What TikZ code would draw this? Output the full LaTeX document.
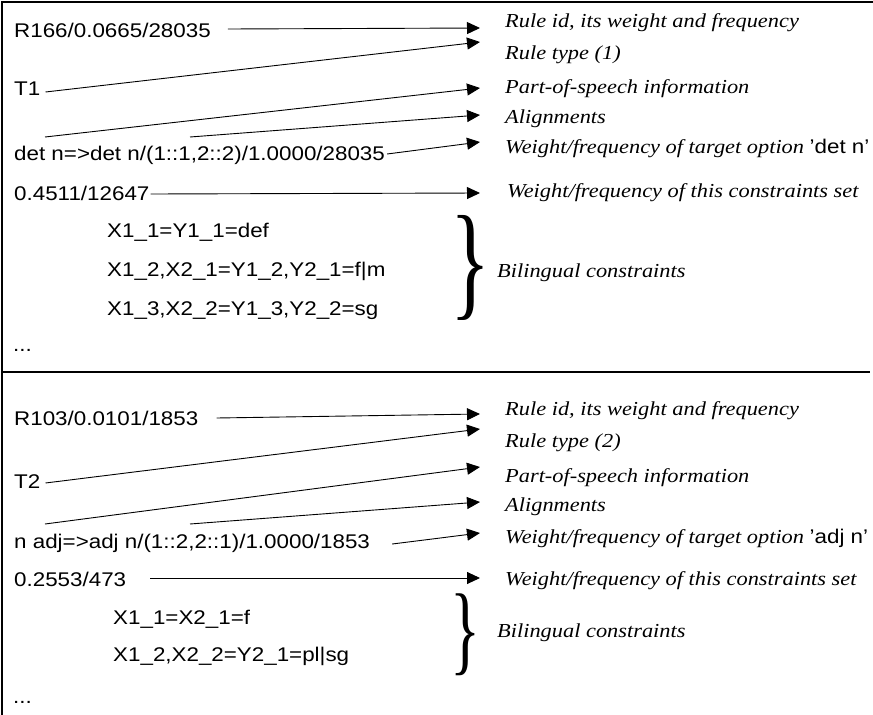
\documentclass[tikz,border=0pt]{standalone}
\usepackage{fontspec}
\usepackage{graphicx}
\setmainfont[FakeStretch=1.13]{Liberation Serif}
\setsansfont[FakeStretch=1.13]{Liberation Sans}
\usetikzlibrary{arrows.meta}

\tikzset{
  code/.style={anchor=base west, inner sep=0pt, font=\sffamily\fontsize{19.8}{22}\selectfont},
  note/.style={anchor=base west, inner sep=0pt, font=\rmfamily\itshape\fontsize{19.8}{22}\selectfont},
  ptr/.style={-{Triangle[length=13pt,width=12pt]}, line width=0.9pt},
  rim/.style={line width=1.3pt}
}
\newcommand{\bigbrace}[2]{\resizebox*{#1}{#2}{\rmfamily\upshape\}}}

\begin{document}
\begin{tikzpicture}[x=1pt,y=1pt]
\useasboundingbox (0,0) rectangle (873,-715);
\draw[rim] (2,-715) -- (2,-2) -- (873,-2);
\draw[rim] (2,-372) -- (870,-372);

% first rule
\node[code] (r166) at (14,-37) {R166/0.0665/28035};
\node[code] (t1) at (14,-95) {T1};
\node[code] (det) at (14,-160) {det n=>det n/(1::1,2::2)/1.0000/28035};
\node[code] (w1) at (14,-200) {0.4511/12647};
\node[code] (c11) at (107,-237) {X1\_1=Y1\_1=def};
\node[code] (c12) at (107,-276) {X1\_2,X2\_1=Y1\_2,Y2\_1=f|m};
\node[code] (c13) at (107,-315) {X1\_3,X2\_2=Y1\_3,Y2\_2=sg};
\node[code] (more1) at (13,-351) {...};

\node[note] (id1) at (505,-27) {Rule id, its weight and frequency};
\node[note] (type1) at (505,-59) {Rule type (1)};
\node[note] (pos1) at (505,-93) {Part-of-speech information};
\node[note] (al1) at (505,-123) {Alignments};
\node[note] (opt1) at (505,-153) {Weight/frequency of target option {\sffamily\upshape 'det n'}};
\node[note] (set1) at (507,-197) {Weight/frequency of this constraints set};
\node[inner sep=0pt] (br1) at (471,-268) {\bigbrace{40pt}{105pt}};
\node[note] (bil1) at (497,-277) {Bilingual constraints};

\coordinate (d1) at (45,-137);
\coordinate (d2) at (190,-137);
\foreach \n/\y in {p1/28, p2/42, p3/88, p4/115, p5/142, p6/193}
  \coordinate (\n) at (480,-\y);

\draw[ptr] ([shift={(17,8)}]r166.base east) -- (p1);
\draw[ptr] ([shift={(5,3)}]t1.base east) -- (p2);
\draw[ptr] (d1) -- (p3);
\draw[ptr] (d2) -- (p4);
\draw[ptr] ([shift={(2,6)}]det.base east) -- (p5);
\draw[ptr] ([shift={(1,6)}]w1.base east) -- (p6);

% second rule
\node[code] (r103) at (14,-425) {R103/0.0101/1853};
\node[code] (t2) at (14,-488) {T2};
\node[code] (adj) at (14,-548) {n adj=>adj n/(1::2,2::1)/1.0000/1853};
\node[code] (w2) at (14,-586) {0.2553/473};
\node[code] (c21) at (113,-624) {X1\_1=X2\_1=f};
\node[code] (c22) at (113,-661) {X1\_2,X2\_2=Y2\_1=pl|sg};
\node[code] (more2) at (13,-703) {...};

\node[note] (id2) at (505,-415) {Rule id, its weight and frequency};
\node[note] (type2) at (505,-447) {Rule type (2)};
\node[note] (pos2) at (505,-482) {Part-of-speech information};
\node[note] (al2) at (505,-511) {Alignments};
\node[note] (opt2) at (505,-543) {Weight/frequency of target option {\sffamily\upshape 'adj n'}};
\node[note] (set2) at (505,-585) {Weight/frequency of this constraints set};
\node[inner sep=0pt] (br2) at (466,-635) {\bigbrace{30pt}{82pt}};
\node[note] (bil2) at (497,-637) {Bilingual constraints};

\coordinate (e1) at (45,-524);
\coordinate (e2) at (190,-524);
\foreach \n/\y in {q1/414, q2/429, q3/467, q4/502, q5/533, q6/578}
  \coordinate (\n) at (480,-\y);

\draw[ptr] ([shift={(18,7)}]r103.base east) -- (q1);
\draw[ptr] ([shift={(5,5)}]t2.base east) -- (q2);
\draw[ptr] (e1) -- (q3);
\draw[ptr] (e2) -- (q4);
\draw[ptr] ([shift={(22,4)}]adj.base east) -- (q5);
\draw[ptr] ([shift={(24,8)}]w2.base east) -- (q6);
\end{tikzpicture}
\end{document}
